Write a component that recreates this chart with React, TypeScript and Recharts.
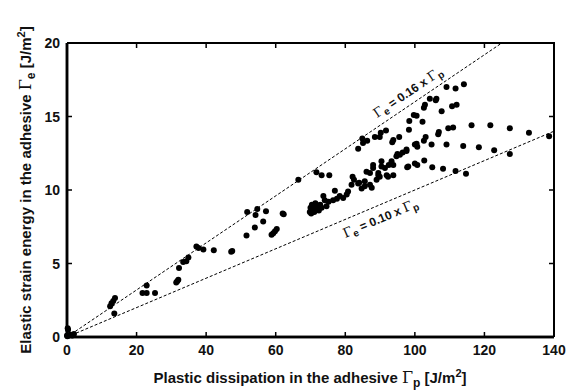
import React from "react";
import { ScatterChart, Scatter, XAxis, YAxis, ReferenceLine } from "recharts";

// Plastic dissipation Γp [J/m²]
const gammaP: number[] = [
  0, 0.3, 0.2, 0.5, 1.0, 1.5, 2.0, 0.1,
  12.4, 12.8, 13.3, 13.8, 13.6,
  22.9, 21.7, 22.9, 25.3,
  31.4, 31.7, 32.0, 32.2, 33.4, 34.3, 34.9,
  37.2, 37.8, 39.2, 42.2, 47.2, 47.5,
  51.6, 51.8, 54.0, 54.2, 54.7, 56.4, 57.2, 58.8, 59.3, 59.8, 60.3, 62.0, 62.3,
  66.5, 71.7, 73.2, 75.4,
  69.8, 70.0, 70.2, 70.4, 70.6, 70.9, 71.1, 71.4, 71.7, 72.0, 72.4, 72.8, 73.2, 73.7, 74.1, 74.6, 75.2, 76.5, 77.0, 77.6, 78.4, 79.4, 80.4, 80.8,
  82.1, 82.5, 81.8, 83.7, 84.7, 85.6, 85.6, 84.0, 86.1, 87.1, 87.1, 87.6, 88.0, 88.0, 89.0, 89.5, 89.5, 89.9, 90.4, 90.4, 91.4, 91.9, 92.3, 92.5, 93.3, 93.8, 93.8, 94.7, 95.0, 95.7, 96.5, 97.6, 97.6, 97.8, 98.1, 100.0, 100.7, 102.7, 105.0, 108.1, 111.7, 114.7,
  83.7, 85.1, 84.9, 86.3, 88.5, 89.9, 90.2, 91.7, 93.5, 93.8, 95.5, 98.3, 98.4, 99.7, 100.5, 102.2, 102.6, 102.9, 104.3, 106.0, 106.2, 107.7, 109.1, 111.7, 114.1, 110.7, 112.0,
  100.0, 100.5, 100.7, 102.6, 103.1, 104.8, 106.7, 106.9, 109.6, 111.0, 116.3, 121.7, 127.3, 132.8, 138.6, 109.1, 113.9, 118.4, 122.8, 127.3,
];

// Elastic strain energy Γe [J/m²]
const gammaE: number[] = [
  0.1, 0.5, 0.6, 0.1, 0.15, 0.1, 0.2, 0.05,
  2.1, 2.3, 2.45, 2.65, 1.6,
  3.5, 3.0, 3.0, 3.0,
  3.7, 3.8, 3.9, 4.7, 5.1, 5.15, 5.4,
  6.15, 6.05, 5.95, 5.9, 5.8, 5.85,
  6.9, 8.5, 7.45, 8.3, 8.7, 7.85, 8.55, 6.95, 7.05, 7.2, 7.35, 8.4, 8.35,
  10.7, 11.2, 11.0, 11.0,
  8.5, 8.8, 8.4, 9.0, 8.6, 8.9, 8.5, 9.1, 8.7, 8.95, 8.6, 9.0, 8.8, 9.6, 9.3, 8.9, 9.2, 9.3, 9.95, 9.4, 9.6, 9.45, 9.7, 9.9,
  10.9, 10.7, 10.35, 10.45, 10.1, 10.25, 10.6, 10.5, 11.25, 11.15, 10.35, 10.15, 11.5, 11.7, 10.7, 11.0, 11.15, 10.9, 11.95, 11.6, 11.5, 11.0, 10.9, 11.7, 11.95, 11.0, 11.7, 12.3, 12.45, 12.4, 12.55, 12.65, 12.75, 11.55, 11.6, 11.8, 11.7, 12.0, 11.55, 11.45, 11.3, 11.1,
  12.8, 13.2, 13.5, 13.35, 13.6, 13.6, 13.9, 14.05, 13.25, 13.4, 13.6, 14.1, 14.7, 15.1, 15.05, 14.65, 15.6, 15.8, 16.2, 16.1, 16.2, 15.35, 17.0, 16.9, 17.2, 15.7, 15.8,
  13.1, 13.15, 12.95, 13.35, 13.6, 13.1, 13.8, 13.95, 14.2, 14.25, 14.4, 14.4, 14.2, 13.9, 13.65, 13.1, 13.0, 12.9, 12.7, 12.45,
];

const xTicks = [0, 20, 40, 60, 80, 100, 120, 140];
const yTicks = [0, 5, 10, 15, 20];

// Bounding ratios Γe = k × Γp
const upperRatio = 0.16;
const lowerRatio = 0.1;
const upperLabel = "0.16";
const lowerLabel = "0.10";
// where each ratio label sits (data units)
const upperLabelAt = [{ x: 98.7, y: 16.4 }];
const lowerLabelAt = [{ x: 90.6, y: 7.8 }];

const points = gammaP.map((x, i) => ({ x, y: gammaE[i] }));

const X_MIN = xTicks[0];
const X_MAX = xTicks[xTicks.length - 1];
const Y_MIN = yTicks[0];
const Y_MAX = yTicks[yTicks.length - 1];

// plot box (px)
const W = 581;
const H = 392;
const PL = 67;
const PR = 554;
const PT = 43;
const PB = 337;
const TICK = 5;

const FONT = "'Liberation Sans', Arial, Helvetica, sans-serif";
const GREEK = "'DejaVu Serif', 'Liberation Serif', serif";

const BottomTick = (p: any) => (
  <text x={p.x} y={p.y + 18} textAnchor="middle" fontFamily={FONT} fontWeight="bold" fontSize={14} fill="#111">
    {p.payload.value}
  </text>
);
const LeftTick = (p: any) => (
  <text x={p.x - 7} y={p.y + 5} textAnchor="end" fontFamily={FONT} fontWeight="bold" fontSize={14} fill="#111">
    {p.payload.value}
  </text>
);

const Dot = (p: any) => <circle cx={p.cx} cy={p.cy} r={3} fill="#000" />;

const makeLineLabel = (k: string, angle: number) => (p: any) => (
  <text
    x={p.cx}
    y={p.cy}
    transform={`rotate(${angle} ${p.cx} ${p.cy})`}
    textAnchor="middle"
    fontFamily={FONT}
    fontWeight="bold"
    fontSize={12}
    fill="#111"
  >
    <tspan fontFamily={GREEK} fontWeight="normal" fontSize={13}>Γ</tspan>
    <tspan dy={3} fontSize={10}>e</tspan>
    <tspan dy={-3}>{` = ${k} x `}</tspan>
    <tspan fontFamily={GREEK} fontWeight="normal" fontSize={13}>Γ</tspan>
    <tspan dy={3} fontSize={10}>p</tspan>
  </text>
);
const UpperLabel = makeLineLabel(upperLabel, -34);
const LowerLabel = makeLineLabel(lowerLabel, -23);

const sx = (v: number) => PL + ((v - X_MIN) / (X_MAX - X_MIN)) * (PR - PL);
const sy = (v: number) => PB - ((v - Y_MIN) / (Y_MAX - Y_MIN)) * (PB - PT);

const tickPath = [
  ...xTicks.slice(1, -1).map((t) => `M${sx(t)},${PB}V${PB - TICK}M${sx(t)},${PT}V${PT + TICK}`),
  ...yTicks.slice(1, -1).map((t) => `M${PL},${sy(t)}H${PL + TICK}M${PR},${sy(t)}H${PR - TICK}`),
].join("");

const Overlay = () => (
  <svg width={W} height={H} style={{ position: "absolute", left: 0, top: 0, pointerEvents: "none" }}>
    <path d={`M${PL},${PT}H${PR}V${PB}`} fill="none" stroke="#000" strokeWidth={2} />
    <path d={`M${PL},${PT}V${PB}H${PR}`} fill="none" stroke="#000" strokeWidth={2.5} />
    <path d={tickPath} fill="none" stroke="#000" strokeWidth={1.5} />
    <text x={310} y={383} textAnchor="middle" fontFamily={FONT} fontWeight="bold" fontSize={15} fill="#111">
      Plastic dissipation in the adhesive{" "}
      <tspan fontFamily={GREEK} fontWeight="normal" fontSize={16}>Γ</tspan>
      <tspan dy={4} fontSize={12}>p</tspan>
      <tspan dy={-4}>{" [J/m"}</tspan>
      <tspan dy={-6} fontSize={11}>2</tspan>
      <tspan dy={6}>]</tspan>
    </text>
    <text x={31} y={190} transform="rotate(-90 31 190)" textAnchor="middle" fontFamily={FONT} fontWeight="bold" fontSize={15} fill="#111">
      Elastic strain energy in the adhesive{" "}
      <tspan fontFamily={GREEK} fontWeight="normal" fontSize={16}>Γ</tspan>
      <tspan dy={4} fontSize={12}>e</tspan>
      <tspan dy={-4}>{" [J/m"}</tspan>
      <tspan dy={-6} fontSize={11}>2</tspan>
      <tspan dy={6}>]</tspan>
    </text>
  </svg>
);

export default function App() {
  return (
    <div style={{ position: "absolute", left: 0, top: 0, width: W, height: H }}>
      <ScatterChart width={W} height={H} margin={{ top: PT, right: W - PR, bottom: 0, left: 0 }}>
        <XAxis
          dataKey="x"
          type="number"
          domain={[X_MIN, X_MAX]}
          ticks={xTicks}
          interval={0}
          height={H - PB}
          tickSize={0}
          tickMargin={0}
          tickLine={false}
          tick={<BottomTick />}
          axisLine={{ stroke: "#000", strokeWidth: 2.5 }}
        />
        <YAxis
          dataKey="y"
          type="number"
          domain={[Y_MIN, Y_MAX]}
          ticks={yTicks}
          interval={0}
          width={PL}
          tickSize={0}
          tickMargin={0}
          tickLine={false}
          tick={<LeftTick />}
          axisLine={{ stroke: "#000", strokeWidth: 2.5 }}
        />
        <ReferenceLine
          segment={[{ x: 0, y: 0 }, { x: Y_MAX / upperRatio, y: Y_MAX }]}
          stroke="#000"
          strokeWidth={1}
          strokeDasharray="3 2"
          ifOverflow="visible"
        />
        <ReferenceLine
          segment={[{ x: 0, y: 0 }, { x: X_MAX, y: X_MAX * lowerRatio }]}
          stroke="#000"
          strokeWidth={1}
          strokeDasharray="3 2"
          ifOverflow="visible"
        />
        <Scatter data={points} shape={<Dot />} isAnimationActive={false} />
        <Scatter data={upperLabelAt} shape={<UpperLabel />} isAnimationActive={false} />
        <Scatter data={lowerLabelAt} shape={<LowerLabel />} isAnimationActive={false} />
      </ScatterChart>
      <Overlay />
    </div>
  );
}
